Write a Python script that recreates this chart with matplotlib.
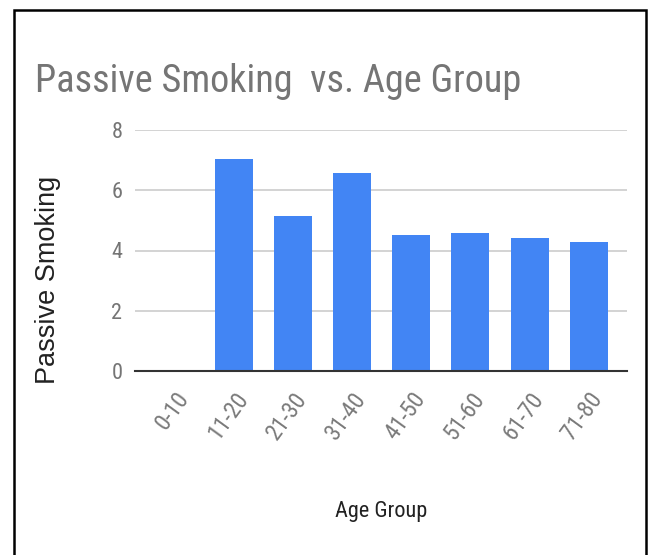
import matplotlib
matplotlib.use("Agg")
import matplotlib.pyplot as plt
from matplotlib.patches import Rectangle
from matplotlib.transforms import ScaledTranslation

age_groups = ["0-10", "11-20", "21-30", "31-40", "41-50", "51-60", "61-70", "71-80"]
passive_smoking = [0, 7.03, 5.15, 6.56, 4.51, 4.59, 4.43, 4.27]
y_ticks = [0, 2, 4, 6, 8]

face = "Roboto Condensed"

fig = plt.figure(figsize=(6.5, 5.55), dpi=100)
ax = fig.add_axes([135 / 650, 1 - 371 / 555, 492 / 650, 241 / 555])

x = list(range(len(age_groups)))
ax.bar(x, passive_smoking, width=0.643, color="#4285f4", zorder=3)

ax.set_xlim(-0.68, 7.65)
ax.set_ylim(0, 8)
ax.set_yticks(y_ticks)
ax.set_yticklabels([str(v) for v in y_ticks], family=face, fontsize=16, color="#757575")
ax.set_xticks(x)
ax.set_xticklabels(age_groups, family=face, fontsize=17, color="#7a7a7a",
                   rotation=54, ha="right", rotation_mode="anchor")
# nudge the slanted labels a little to the right
for lbl in ax.get_xticklabels():
    lbl.set_transform(lbl.get_transform() + ScaledTranslation(11 / 100, 0, fig.dpi_scale_trans))
ax.tick_params(axis="x", length=0, pad=12)
ax.tick_params(axis="y", length=0, pad=9)
ax.grid(axis="y", color="#cccccc", linewidth=1.2, zorder=0)
for s in ["top", "right", "left"]:
    ax.spines[s].set_visible(False)
ax.spines["bottom"].set_color("#333333")
ax.spines["bottom"].set_linewidth(1.5)
ax.spines["bottom"].set_zorder(4)

fig.text(35 / 650, 1 - 92 / 555, "Passive Smoking  vs. Age Group", family=face,
         fontsize=27.5, color="#757575", va="baseline", ha="left")
fig.text(48 / 650, 1 - 280 / 555, "Passive Smoking", family="Liberation Sans",
         fontsize=19.5, color="#222222", rotation=90, ha="center", va="center")
fig.text(381 / 650, 1 - 512 / 555, "Age Group", family=face,
         fontsize=16, color="#222222", ha="center", va="center")

fig.patches.append(Rectangle((14 / 650, -0.05), 632 / 650, 1.05 - 10 / 555,
                             transform=fig.transFigure, fill=False,
                             edgecolor="black", linewidth=1.8))

fig.savefig("out.png", dpi=100)
